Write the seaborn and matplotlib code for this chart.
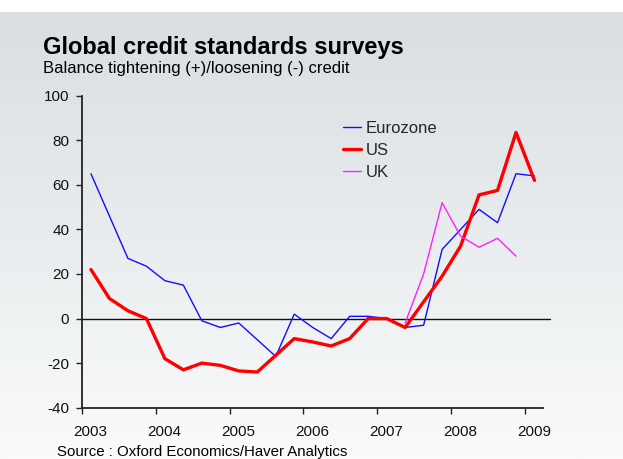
import numpy as np
import pandas as pd
import matplotlib
matplotlib.use("Agg")
import matplotlib.pyplot as plt
from matplotlib.lines import Line2D
from matplotlib.transforms import ScaledTranslation
import seaborn as sns

# Quarterly survey balances, 2003Q1 .. 2009Q1 (plotted at mid-quarter)
quarters = [f"{y}Q{q}" for y in range(2003, 2010) for q in range(1, 5)][:25]
eurozone = [65, 46, 27, 23.5, 17, 15, -1, -4, -2, -9.5, -17, 2, -4, -9, 1, 1,
            0, -4, -3, 31, 40, 49, 43, 65, 64]
us = [22, 9, 3.5, 0, -18, -23, -20, -21, -23.5, -24, -16.5, -9, -10.5, -12.3,
      -9, 0, 0, -4, 7.5, 19, 32.5, 55.5, 57.5, 83.5, 62]
uk = [np.nan] * 17 + [-2, 20, 52, 37, 32, 36, 28, np.nan]
year_ticks = [2003, 2004, 2005, 2006, 2007, 2008, 2009]
y_ticks = [-40, -20, 0, 20, 40, 60, 80, 100]

series_names = ["Eurozone", "US", "UK"]
series_colors = {"Eurozone": "#1010ff", "US": "#ff0000", "UK": "#ff20ff"}
series_widths = {"Eurozone": 1.0, "US": 2.4, "UK": 1.0}

t = [int(q[:4]) + (int(q[-1]) - 0.5) / 4 for q in quarters]
df = pd.DataFrame({"t": t, "Eurozone": eurozone, "US": us, "UK": uk})

sns.set_style("white")
plt.rcParams["font.family"] = ["Liberation Sans", "DejaVu Sans"]

W, H = 623, 459
fig = plt.figure(figsize=(W / 100, H / 100), dpi=100)

# slide background: white strip on top, soft grey-to-white vertical gradient below
bg = fig.add_axes([0, 0, 1, 1], zorder=-10)
bg.set_axis_off()
rows = np.linspace(0, 1, 400)
top = np.array([216, 222, 225]) / 255
bot = np.array([250, 251, 251]) / 255
grad = top[None, :] * (1 - rows[:, None]) + bot[None, :] * rows[:, None]
img = np.repeat(grad[:, None, :], 2, axis=1)
strip = 12 / H
bg.imshow(img, extent=[0, 1, 0, 1 - strip], aspect="auto", origin="upper")
bg.set_xlim(0, 1)
bg.set_ylim(0, 1)

left, right, top_px, bottom_px = 81.7, 543.0, 95.7, 407.7
ax = fig.add_axes([left / W, 1 - bottom_px / H, (right - left) / W, (bottom_px - top_px) / H])
ax.patch.set_alpha(0)

for name in series_names:
    sns.lineplot(data=df, x="t", y=name, ax=ax, color=series_colors[name],
                 linewidth=series_widths[name], legend=False, zorder=3)

ax.axhline(0, xmin=0, xmax=1.016, color="#111111", linewidth=1.0, clip_on=False, zorder=2)

ax.set_xlim(2003, 2009.24)
ax.set_ylim(-40, 100)
ax.set_xticks(year_ticks)
ax.set_xticklabels([str(y) for y in year_ticks])
ax.set_yticks(y_ticks)
ax.set_yticklabels([str(v) for v in y_ticks])
ax.set_xlabel("")
ax.set_ylabel("")
sns.despine(ax=ax)
for side in ["left", "bottom"]:
    ax.spines[side].set_color("#222222")
    ax.spines[side].set_linewidth(1.3)
ax.tick_params(axis="both", direction="out", length=4, width=1.0, color="#222222",
               labelsize=11, labelcolor="#111111")
ax.tick_params(axis="x", pad=8.5)
ax.tick_params(axis="y", pad=5)
ax.tick_params(left=True, bottom=True)
shift = ScaledTranslation(8.5 / 100, 0, fig.dpi_scale_trans)
for lab in ax.get_xticklabels():
    lab.set_transform(lab.get_transform() + shift)

handles = [Line2D([], [], color=series_colors[n], linewidth=series_widths[n]) for n in series_names]
ax.legend(handles, series_names, loc="upper left", bbox_to_anchor=(343 / W, 1 - 121 / H),
          bbox_transform=fig.transFigure, frameon=False, fontsize=12, borderpad=0,
          borderaxespad=0, handlelength=1.05, handletextpad=0.3, labelspacing=0.42)

fig.text(43 / W, 1 - 54 / H, "Global credit standards surveys", fontsize=17, fontweight="bold",
         color="#000000", va="baseline", ha="left")
fig.text(43 / W, 1 - 72.5 / H, "Balance tightening (+)/loosening (-) credit", fontsize=12,
         color="#000000", va="baseline", ha="left")
fig.text(57 / W, 1 - 456 / H, "Source : Oxford Economics/Haver Analytics", fontsize=10.8,
         color="#000000", va="baseline", ha="left")

fig.savefig("out.png", dpi=100)
